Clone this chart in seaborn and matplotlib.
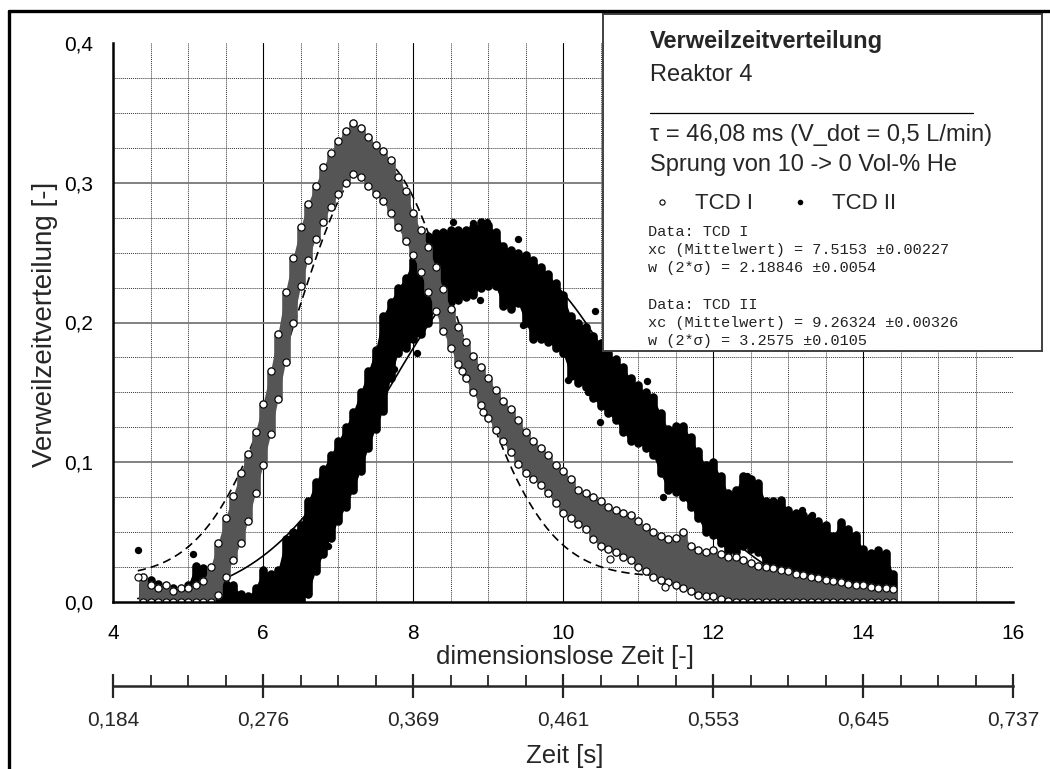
import numpy as np
import pandas as pd
import matplotlib
matplotlib.use("Agg")
import matplotlib.pyplot as plt
import seaborn as sns
from matplotlib.ticker import MultipleLocator, FixedLocator, FuncFormatter
from matplotlib.lines import Line2D

# ---------------------------------------------------------------------------
# Residence time distribution, reactor 4 (two thermal conductivity detectors)
# ---------------------------------------------------------------------------

# dimensionless time at which the readings are grouped
t_grid = np.round(np.arange(4.4, 14.41, 0.1), 1)

# TCD I: lower / upper reading at each time step
tcd1_low = [0.000, 0.000, 0.000, 0.000, 0.000, 0.000, 0.000, 0.000, 0.000, 0.000,
            0.005, 0.018, 0.030, 0.042, 0.058, 0.078, 0.098, 0.120, 0.145, 0.172,
            0.200, 0.226, 0.245, 0.260, 0.272, 0.283, 0.292, 0.300, 0.306, 0.304,
            0.298, 0.292, 0.287, 0.278, 0.268, 0.258, 0.248, 0.236, 0.222, 0.208,
            0.194, 0.182, 0.170, 0.160, 0.150, 0.141, 0.132, 0.123, 0.115, 0.107,
            0.099, 0.092, 0.088, 0.084, 0.078, 0.071, 0.064, 0.060, 0.056, 0.052,
            0.045, 0.040, 0.038, 0.036, 0.032, 0.030, 0.025, 0.022, 0.018, 0.016,
            0.014, 0.012, 0.010, 0.008, 0.005, 0.004, 0.004, 0.002, 0.001, 0.000,
            0.000, 0.000, 0.000, 0.000, 0.000, 0.000, 0.000, 0.000, 0.000, 0.000,
            0.000, 0.000, 0.000, 0.000, 0.000, 0.000, 0.000, 0.000, 0.000, 0.000,
            0.000]
tcd1_high = [0.018, 0.012, 0.010, 0.012, 0.008, 0.010, 0.010, 0.012, 0.015, 0.025,
             0.042, 0.060, 0.076, 0.092, 0.106, 0.122, 0.142, 0.165, 0.192, 0.222,
             0.246, 0.268, 0.285, 0.298, 0.311, 0.321, 0.330, 0.337, 0.343, 0.339,
             0.333, 0.327, 0.323, 0.316, 0.304, 0.294, 0.278, 0.266, 0.254, 0.240,
             0.224, 0.210, 0.197, 0.186, 0.176, 0.168, 0.160, 0.152, 0.144, 0.138,
             0.130, 0.122, 0.115, 0.110, 0.105, 0.098, 0.094, 0.088, 0.080, 0.078,
             0.075, 0.072, 0.068, 0.066, 0.064, 0.062, 0.058, 0.054, 0.050, 0.047,
             0.045, 0.046, 0.050, 0.040, 0.037, 0.036, 0.037, 0.034, 0.032, 0.032,
             0.030, 0.028, 0.026, 0.025, 0.024, 0.023, 0.022, 0.020, 0.019, 0.018,
             0.017, 0.016, 0.015, 0.014, 0.013, 0.012, 0.012, 0.011, 0.010, 0.010,
             0.009]

# TCD II: lower / upper reading at each time step
tcd2_low = [0.000, 0.000, 0.000, 0.000, 0.000, 0.000, 0.000, 0.000, 0.000, 0.000,
            0.000, 0.000, 0.000, 0.000, 0.000, 0.000, 0.000, 0.000, 0.000, 0.000,
            0.000, 0.000, 0.006, 0.022, 0.034, 0.046, 0.058, 0.068, 0.080, 0.094,
            0.110, 0.124, 0.137, 0.160, 0.178, 0.182, 0.188, 0.192, 0.200, 0.210,
            0.212, 0.215, 0.216, 0.218, 0.220, 0.225, 0.226, 0.226, 0.212, 0.210,
            0.214, 0.200, 0.188, 0.188, 0.186, 0.182, 0.178, 0.162, 0.157, 0.154,
            0.146, 0.140, 0.135, 0.130, 0.122, 0.115, 0.114, 0.110, 0.105, 0.092,
            0.080, 0.079, 0.075, 0.068, 0.060, 0.050, 0.048, 0.042, 0.036, 0.036,
            0.040, 0.038, 0.036, 0.026, 0.025, 0.025, 0.018, 0.016, 0.013, 0.011,
            0.008, 0.006, 0.004, 0.004, 0.002, 0.001, 0.000, 0.000, 0.000, 0.000,
            0.000]
tcd2_high = [0.012, 0.016, 0.013, 0.011, 0.010, 0.007, 0.012, 0.026, 0.024, 0.012,
             0.010, 0.013, 0.012, 0.006, 0.004, 0.010, 0.023, 0.020, 0.023, 0.045,
             0.050, 0.055, 0.072, 0.086, 0.095, 0.105, 0.115, 0.125, 0.136, 0.150,
             0.165, 0.180, 0.205, 0.215, 0.225, 0.232, 0.245, 0.260, 0.262, 0.264,
             0.265, 0.266, 0.266, 0.266, 0.268, 0.272, 0.270, 0.265, 0.255, 0.252,
             0.250, 0.248, 0.245, 0.240, 0.235, 0.228, 0.220, 0.205, 0.200, 0.197,
             0.190, 0.185, 0.178, 0.174, 0.168, 0.160, 0.155, 0.150, 0.147, 0.135,
             0.124, 0.126, 0.126, 0.118, 0.108, 0.098, 0.100, 0.090, 0.078, 0.080,
             0.090, 0.088, 0.085, 0.072, 0.072, 0.073, 0.066, 0.064, 0.062, 0.061,
             0.058, 0.055, 0.047, 0.057, 0.052, 0.048, 0.038, 0.035, 0.037, 0.035,
             0.020]

# isolated readings outside the main bands
tcd1_out_t = [4.33, 8.65, 8.93, 10.63, 11.36]
tcd1_out_y = [0.018, 0.165, 0.136, 0.031, 0.011]
tcd2_out_t = [4.33, 5.07, 6.86, 6.96, 7.74, 8.05, 8.53, 8.80, 8.89, 8.99, 9.40, 9.47,
              10.07, 10.33, 10.43, 10.49, 11.12, 11.33, 12.45, 13.18, 13.32]
tcd2_out_y = [0.037, 0.034, 0.040, 0.103, 0.167, 0.178, 0.272, 0.271, 0.216, 0.272,
              0.260, 0.198, 0.159, 0.150, 0.208, 0.129, 0.158, 0.075, 0.090, 0.066,
              0.062]

# Gaussian fits (Origin form, w = 2 sigma)
fit1 = dict(xc=7.5153, w=2.18846, y0=0.018, h=0.300)
fit2 = dict(xc=9.26324, w=3.2575, y0=0.000, h=0.245)
tau_s = 0.04608  # mean residence time in seconds (46,08 ms)

x_ticks = [4, 6, 8, 10, 12, 14, 16]
y_ticks = [0.0, 0.1, 0.2, 0.3, 0.4]


def gauss(t, xc, w, y0, h):
    return y0 + h * np.exp(-2.0 * ((t - xc) / w) ** 2)


sns.set_style("white")
plt.rcParams['font.family'] = ['Liberation Sans', 'DejaVu Sans']
plt.rcParams['axes.unicode_minus'] = False

W, H = 1050, 769
fig = plt.figure(figsize=(W / 100, H / 100), dpi=100)


def fx(px):
    return px / W


def fy(py):
    return 1 - py / H


ax = fig.add_axes([fx(113), fy(602), 900 / W, 559 / H])
ax.set_xlim(4, 16)
ax.set_ylim(0, 0.4)

# grid: dotted minor, solid major (no line on the upper/right border)
for v in np.arange(4.5, 16.0, 0.5):
    if abs(v % 2) < 1e-9:
        ax.axvline(v, color='black', lw=0.8, zorder=0.6)
    else:
        ax.axvline(v, color='#333333', lw=0.7, ls=(0, (1, 1)), zorder=0.5)
for k in range(1, 16):
    v = k * 0.025
    if k % 4 == 0:
        ax.axhline(v, color='#777777', lw=1.3, zorder=0.6)
    else:
        ax.axhline(v, color='#333333', lw=0.7, ls=(0, (1, 1)), zorder=0.5)

# fitted curves
t_fit = np.linspace(4.33, 14.45, 600)
fits = pd.DataFrame({'t': t_fit,
                     'f1': gauss(t_fit, **fit1),
                     'f2': gauss(t_fit, **fit2)})
sns.lineplot(data=fits, x='t', y='f1', ax=ax, color='black', lw=1.2,
             ls=(0, (5, 3)), zorder=2)
sns.lineplot(data=fits, x='t', y='f2', ax=ax, color='black', lw=1.2, zorder=2)

# TCD II band (filled dots)
ax.fill_between(t_grid, tcd2_low, tcd2_high, color='black', lw=0, zorder=3)
ax.vlines(t_grid, tcd2_low, tcd2_high, colors='black', lw=6.2, zorder=3,
          capstyle='round')
d2 = pd.DataFrame({'t': np.concatenate([t_grid, t_grid, tcd2_out_t]),
                   'y': np.concatenate([tcd2_low, tcd2_high, tcd2_out_y])})
sns.scatterplot(data=d2, x='t', y='y', ax=ax, color='black', s=28,
                linewidth=0, zorder=3.5, legend=False)

# TCD I band (open circles)
ax.fill_between(t_grid, tcd1_low, tcd1_high, color='#555555', lw=0, zorder=4)
ax.vlines(t_grid, tcd1_low, tcd1_high, colors='#555555', lw=6.2, zorder=4,
          capstyle='round')
d1 = pd.DataFrame({'t': np.concatenate([t_grid, t_grid, tcd1_out_t]),
                   'y': np.concatenate([tcd1_low, tcd1_high, tcd1_out_y])})
sns.scatterplot(data=d1, x='t', y='y', ax=ax, marker='o', facecolor='white',
                edgecolor='black', s=26, linewidth=0.8, zorder=5, legend=False)

ax.set_xlabel('')
ax.set_ylabel('')

for side in ('top', 'right'):
    ax.spines[side].set_visible(False)
for side in ('left', 'bottom'):
    ax.spines[side].set_linewidth(1.8)
    ax.spines[side].set_color('black')
    ax.spines[side].set_zorder(6)

ax.xaxis.set_major_locator(FixedLocator(x_ticks))
ax.xaxis.set_minor_locator(MultipleLocator(0.5))
ax.yaxis.set_major_locator(FixedLocator(y_ticks))
ax.yaxis.set_minor_locator(MultipleLocator(0.025))
ax.xaxis.set_major_formatter(FuncFormatter(lambda v, p: f"{v:.0f}"))
ax.yaxis.set_major_formatter(FuncFormatter(lambda v, p: f"{v:.1f}".replace('.', ',')))
ax.tick_params(which='major', direction='inout', length=17, width=1.6,
               labelsize=15, colors='black')
ax.tick_params(axis='y', which='major', pad=6)
ax.tick_params(axis='x', which='major', pad=7)
ax.tick_params(which='minor', direction='in', length=5, width=1.3)
ax.tick_params(top=False, right=False, which='both')

# second time axis in seconds
sec = ax.secondary_xaxis(-84 / 559, functions=(lambda x: x * tau_s,
                                                lambda s: s / tau_s))
sec.xaxis.set_major_locator(FixedLocator([v * tau_s for v in x_ticks]))
sec.xaxis.set_minor_locator(FixedLocator([v * tau_s for v in np.arange(4.5, 16, 0.5)
                                          if abs(v % 2) > 1e-9]))
sec.xaxis.set_major_formatter(FuncFormatter(lambda v, p: f"{v:.3f}".replace('.', ',')))
sec.tick_params(which='major', direction='inout', length=17, width=1.6,
                labelsize=15, pad=9)
sec.tick_params(which='minor', direction='in', length=8, width=1.3)
sec.spines['bottom'].set_linewidth(1.8)

# axis titles
fig.text(fx(45), fy(324), 'Verweilzeitverteilung [-]', rotation=90,
         ha='center', va='center', fontsize=20)
fig.text(fx(565), fy(657), 'dimensionslose Zeit [-]', ha='center', va='center',
         fontsize=18.5)
fig.text(fx(565), fy(756), 'Zeit [s]', ha='center', va='center', fontsize=18.5)

# information box
bx0, by0, bx1, by1 = 603, 14, 1042, 351
lax = fig.add_axes([fx(bx0), fy(by1), (bx1 - bx0) / W, (by1 - by0) / H])
lax.set_xlim(0, bx1 - bx0)
lax.set_ylim(by1 - by0, 0)
lax.set_facecolor('white')
lax.set_xticks([])
lax.set_yticks([])
for s in lax.spines.values():
    s.set_color('#404040')
    s.set_linewidth(1.4)

lx = 47
lax.text(lx, 34, 'Verweilzeitverteilung', fontsize=17, fontweight='bold',
         va='baseline')
lax.text(lx, 67, 'Reaktor 4', fontsize=17, va='baseline')
lax.plot([lx, 370], [99, 99], color='black', lw=0.9)
lax.text(lx, 127, 'τ = 46,08 ms (V_dot = 0,5 L/min)', fontsize=17, va='baseline')
lax.text(lx, 157, 'Sprung von 10 -> 0 Vol-% He', fontsize=17, va='baseline')
lax.scatter([59], [188], s=14, facecolor='white', edgecolor='black', lw=0.8)
lax.text(92, 195, 'TCD I', fontsize=16, va='baseline')
lax.scatter([197], [188], s=16, color='black', lw=0)
lax.text(229, 195, 'TCD II', fontsize=16, va='baseline')

mono = ['Liberation Mono', 'DejaVu Sans Mono']
info = [('Data: TCD I', 222),
        ('xc (Mittelwert) = 7.5153 ±0.00227', 240),
        ('w (2*σ) = 2.18846 ±0.0054', 258),
        ('Data: TCD II', 295),
        ('xc (Mittelwert) = 9.26324 ±0.00326', 313),
        ('w (2*σ) = 3.2575 ±0.0105', 331)]
for s, yy in info:
    lax.text(45, yy, s, fontsize=11, family=mono, va='baseline', color='#222222')

# outer frame
fig.add_artist(Line2D([fx(9), 1.0], [fy(11), fy(11)], color='black', lw=2.4))
fig.add_artist(Line2D([fx(9), fx(9)], [0.0, fy(11)], color='black', lw=2.4))

fig.savefig('out.png', dpi=100)
